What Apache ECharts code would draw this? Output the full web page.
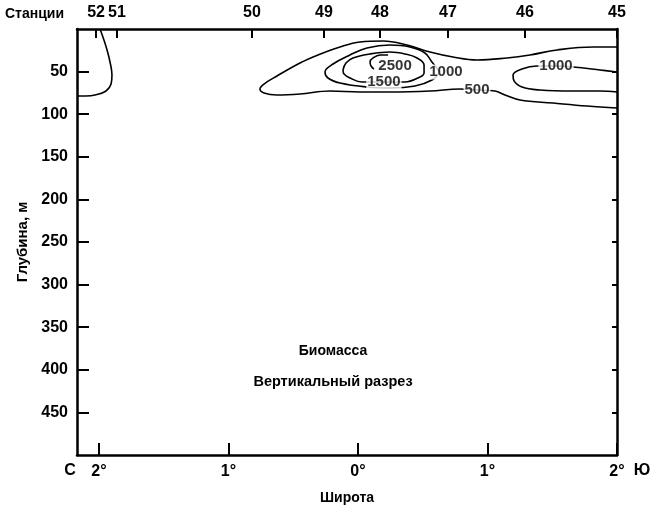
<!DOCTYPE html>
<html>
<head>
<meta charset="utf-8">
<script src="https://cdn.jsdelivr.net/npm/echarts@6/dist/echarts.min.js"></script>
<style>html,body{margin:0;padding:0;background:#fff}#c{width:652px;height:509px}</style>
</head>
<body>
<div id="c"></div>
<script>
// Latitude: negative = north, positive = south
const latTicks = [-2, -1, 0, 1, 2];
const depthTicks = [50, 100, 150, 200, 250, 300, 350, 400, 450];
const stationNames = ['52', '51', '50', '49', '48', '47', '46', '45'];
const stationLat = [-2.023, -1.861, -0.819, -0.263, 0.170, 0.695, 1.289, 2.0];

// Contour lines [latitude, depth]
const contour500West = [
  [-1.992, 0], [-1.962, 12.9], [-1.938, 24.6], [-1.915, 38.7], [-1.900, 54.0],
  [-1.907, 64.6], [-1.946, 72.8], [-2.031, 77.5], [-2.100, 78.6], [-2.17, 78.6]
];
const contour500Main = [
  [2.0, 21.1], [1.815, 21.1], [1.537, 24.6], [1.328, 30.5], [1.150, 34.0],
  [0.919, 36.4], [0.734, 32.9], [0.556, 27.0], [0.378, 18.8], [0.193, 14.1],
  [0.015, 15.3], [-0.139, 21.1], [-0.309, 30.5], [-0.448, 39.9], [-0.626, 55.2],
  [-0.726, 64.6], [-0.757, 70.4], [-0.726, 75.1], [-0.626, 77.5], [-0.448, 76.3],
  [-0.216, 72.8], [0.015, 73.9], [0.247, 73.9], [0.556, 72.8], [0.788, 70.4],
  [0.919, 71.6], [1.058, 72.8], [1.135, 77.5], [1.251, 83.3], [1.506, 86.9],
  [1.768, 90.4], [2.0, 92.7]
];
const contour1000Main = [
  [0.633, 50.5], [0.571, 38.7], [0.517, 28.2], [0.401, 21.1], [0.247, 18.8],
  [0.069, 22.3], [-0.062, 30.5], [-0.193, 41.1], [-0.255, 50.5], [-0.232, 57.5],
  [-0.139, 63.4], [0.069, 68.1], [0.247, 69.2], [0.440, 66.9], [0.571, 59.9],
  [0.633, 50.5]
];
const contour1000East = [
  [2.0, 50.5], [1.869, 48.1], [1.660, 44.6], [1.529, 43.4], [1.382, 43.4],
  [1.266, 46.9], [1.197, 54.0], [1.205, 61.0], [1.266, 68.1], [1.405, 71.6],
  [1.660, 72.8], [1.869, 72.8], [2.0, 73.9]
];
const contour1500 = [
  [-0.116, 48.1], [-0.093, 39.9], [-0.039, 34.0], [0.093, 29.3], [0.247, 27.0],
  [0.363, 29.3], [0.456, 34.0], [0.510, 42.3], [0.510, 51.6], [0.463, 57.5],
  [0.363, 62.2], [0.200, 62.2], [0.031, 62.2], [-0.062, 57.5], [-0.108, 52.8],
  [-0.116, 48.1]
];
const contour2500 = [
  [0.232, 30.5], [0.170, 30.5], [0.116, 34.0], [0.093, 38.7], [0.100, 43.4], [0.123, 47.0]
];
const contourLabels = [
  [0.286, 43.4, '2500'],
  [0.200, 62.2, '1500'],
  [0.679, 50.5, '1000'],
  [0.919, 71.6, '500'],
  [1.529, 43.4, '1000']
];

const FONT = '"Liberation Sans", Arial, Helvetica, sans-serif';
const chart = echarts.init(document.getElementById('c'), null, {renderer: 'canvas'});

function contourSeries(data) {
  return {
    type: 'line', data: data, xAxisIndex: 0, yAxisIndex: 0,
    smooth: 0.4, symbol: 'none', silent: true, z: 2,
    lineStyle: {color: '#000', width: 1.6}
  };
}

const axisLineStyle = {show: true, onZero: false, lineStyle: {color: '#000', width: 2.5}};

chart.setOption({
  animation: false,
  backgroundColor: '#fff',
  grid: {left: 77, right: 35, top: 29, bottom: 54, outerBoundsMode: 'none', containLabel: false},
  xAxis: [
    {
      type: 'value', position: 'bottom', min: -2.17, max: 2,
      name: 'Широта', nameLocation: 'middle', nameGap: 36,
      nameTextStyle: {fontFamily: FONT, fontWeight: 'bold', fontSize: 14, color: '#000'},
      axisLine: axisLineStyle,
      axisTick: {show: true, inside: true, length: 12, customValues: latTicks, lineStyle: {color: '#000', width: 2}},
      axisLabel: {
        customValues: latTicks, margin: 9,
        fontFamily: FONT, fontWeight: 'bold', fontSize: 16, color: '#000',
        formatter: v => Math.abs(Math.round(v)) + '°'
      },
      splitLine: {show: false}
    },
    {
      type: 'value', position: 'top', min: -2.17, max: 2,
      axisLine: axisLineStyle,
      axisTick: {show: true, inside: true, length: 9, customValues: stationLat, lineStyle: {color: '#000', width: 2}},
      axisLabel: {
        customValues: stationLat, margin: 8,
        fontFamily: FONT, fontWeight: 'bold', fontSize: 16, color: '#000',
        formatter: v => {
          let best = 0;
          for (let i = 1; i < stationLat.length; i++) {
            if (Math.abs(stationLat[i] - v) < Math.abs(stationLat[best] - v)) best = i;
          }
          return stationNames[best];
        }
      },
      splitLine: {show: false}
    }
  ],
  yAxis: [
    {
      type: 'value', position: 'left', inverse: true, min: 0, max: 500,
      name: 'Глубина, м', nameLocation: 'middle', nameGap: 44, nameRotate: 90,
      nameTextStyle: {fontFamily: FONT, fontWeight: 'bold', fontSize: 15, color: '#000'},
      axisLine: axisLineStyle,
      axisTick: {show: true, inside: true, length: 12, customValues: depthTicks, lineStyle: {color: '#000', width: 2}},
      axisLabel: {
        customValues: depthTicks, margin: 9,
        fontFamily: FONT, fontWeight: 'bold', fontSize: 16, color: '#000'
      },
      splitLine: {show: false}
    },
    {
      type: 'value', position: 'right', inverse: true, min: 0, max: 500,
      axisLine: axisLineStyle,
      axisTick: {show: true, inside: true, length: 5, customValues: depthTicks, lineStyle: {color: '#000', width: 2}},
      axisLabel: {show: false},
      splitLine: {show: false}
    }
  ],
  series: [
    contourSeries(contour500West),
    contourSeries(contour500Main),
    contourSeries(contour1000Main),
    contourSeries(contour1000East),
    contourSeries(contour1500),
    contourSeries(contour2500),
    {
      type: 'scatter', data: contourLabels, symbolSize: 0, silent: true, z: 5,
      xAxisIndex: 0, yAxisIndex: 0,
      label: {
        show: true, position: 'inside',
        formatter: p => p.value[2],
        fontFamily: FONT, fontWeight: 'bold', fontSize: 15, color: '#000',
        backgroundColor: '#fff', padding: [0, 1]
      }
    }
  ],
  graphic: [
    {type: 'text', left: 5, top: 7, style: {text: 'Станции', font: 'bold 14px ' + FONT, fill: '#000'}},
    {type: 'text', x: 70, y: 471, style: {text: 'С', font: 'bold 16px ' + FONT, fill: '#000', align: 'center', verticalAlign: 'middle'}},
    {type: 'text', x: 642, y: 471, style: {text: 'Ю', font: 'bold 16px ' + FONT, fill: '#000', align: 'center', verticalAlign: 'middle'}},
    {type: 'text', x: 333, y: 351, style: {text: 'Биомасса', font: 'bold 14px ' + FONT, fill: '#000', align: 'center', verticalAlign: 'middle'}},
    {type: 'text', x: 333, y: 382, style: {text: 'Вертикальный разрез', font: 'bold 14.5px ' + FONT, fill: '#000', align: 'center', verticalAlign: 'middle'}}
  ]
});
</script>
</body>
</html>
